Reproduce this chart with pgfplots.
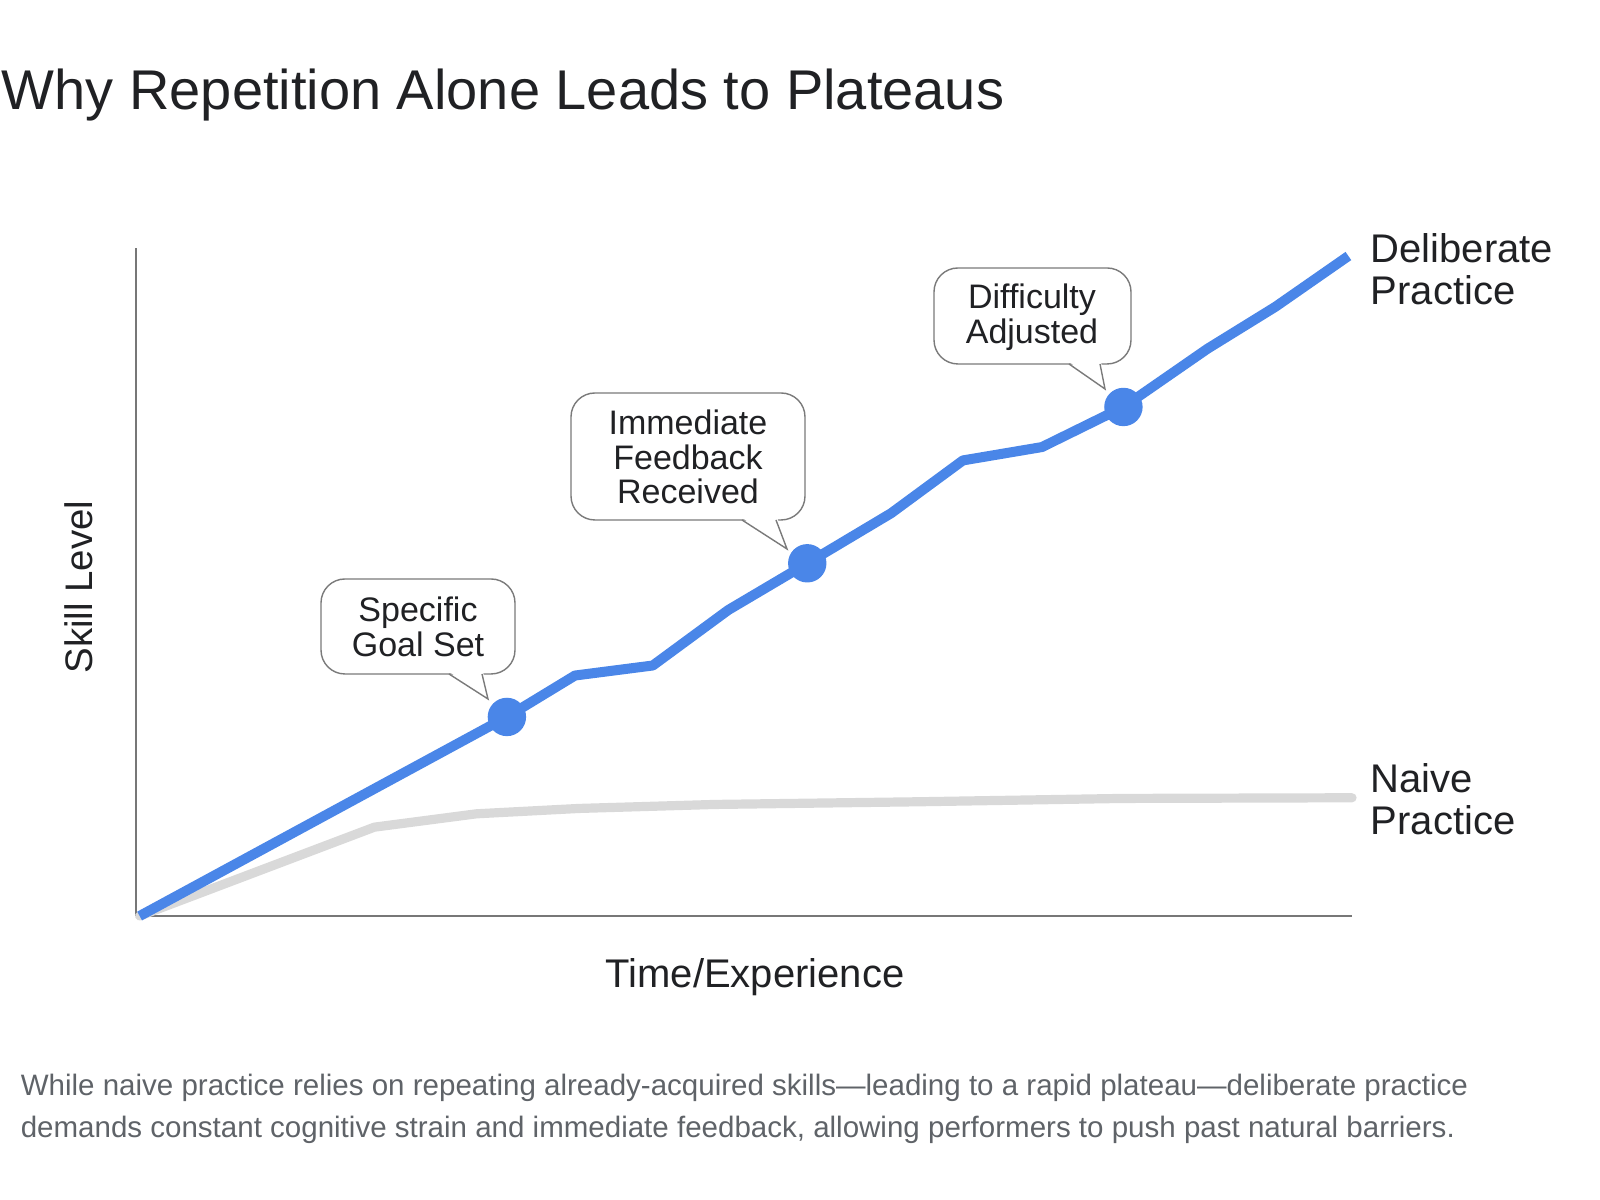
\documentclass[border=0pt]{standalone}
\usepackage{fontspec}
\setmainfont{Liberation Sans}
\usepackage{pgfplots}
\pgfplotsset{compat=1.18}

\definecolor{dpblue}{HTML}{4A86E8}
\definecolor{npgray}{HTML}{D9D9D9}
\definecolor{axisgray}{HTML}{777777}
\definecolor{boxgray}{HTML}{7A7A7A}
\definecolor{inkdark}{HTML}{202124}
\definecolor{capgray}{HTML}{5F6368}

% skill over time, both series on a 0-100 scale
\pgfplotstableread{
x     y
0.3   0.0
30.5  29.8
36.1  36.0
42.5  37.5
48.7  45.8
55.2  52.8
62.1  60.3
68.0  68.2
74.5  70.2
81.2  76.2
88.1  84.9
93.7  91.2
99.7  98.8
}\deliberate

\pgfplotstableread{
x     y
30.5  29.8
55.2  52.8
81.2  76.2
}\milestones

\pgfplotstableread{
x     y
0.3   0.0
19.6  13.3
28.0  15.3
36.4  16.1
47.6  16.7
64.3  17.1
81.1  17.6
100   17.7
}\naive

\begin{document}
\begin{tikzpicture}
% page frame in 1600 x 1200 units, y pointing down
\begin{scope}[x=0.25bp, y=-0.25bp, shift={(0,300bp)}]
  \useasboundingbox (0,0) rectangle (1600,1200);
\end{scope}

\begin{axis}[
  at={(34bp,71bp)}, anchor=south west, scale only axis,
  width=304bp, height=167bp,
  xmin=0, xmax=100, ymin=0, ymax=100,
  axis lines=left,
  axis line style={-, draw=axisgray, line width=0.45bp},
  ticks=none, clip=false,
]
  \addplot[npgray, line width=2.3bp, line join=round, line cap=round] table {\naive};
  \addplot[dpblue, line width=2.5bp, line join=round] table {\deliberate};
  \addplot[only marks, mark=*, mark size=4.6bp, dpblue, mark options={draw=dpblue, fill=dpblue}] table {\milestones};
\end{axis}

\begin{scope}[x=0.25bp, y=-0.25bp, shift={(0,300bp)}, text=inkdark]
  % title
  \node[anchor=base west, inner sep=0pt, font=\fontsize{14bp}{17bp}\selectfont] at (1,110)
    {Why Repetition Alone Leads to Plateaus};

  % axis titles
  \node[rotate=90, inner sep=0pt, font=\fontsize{9.6bp}{11bp}\selectfont] at (79,587) {Skill Level};
  \node[anchor=base, inner sep=0pt, font=\fontsize{10bp}{12bp}\selectfont] at (755,988) {Time/Experience};

  % series names (anchored on the baseline of the last line)
  \node[anchor=base west, inner sep=0pt, align=left, font=\fontsize{10bp}{10.5bp}\selectfont] at (1370,305)
    {Deliberate\\Practice};
  \node[anchor=base west, inner sep=0pt, align=left, font=\fontsize{10bp}{10.5bp}\selectfont] at (1370,835)
    {Naive\\Practice};

  % callouts
  \tikzset{callout/.style={draw=boxgray, line width=0.35bp}}
  % Specific Goal Set
  \filldraw[callout, fill=white, rounded corners=6] (321,579) rectangle (515,674);
  \fill[white] (448,671) -- (488,699) -- (483,671) -- cycle;
  \draw[callout, line join=miter] (449,674) -- (488,699) -- (482,674);
  \node[align=center, inner sep=0pt, font=\fontsize{8.5bp}{8.7bp}\selectfont] at (418,627)
    {Specific\\Goal Set};
  % Immediate Feedback Received
  \filldraw[callout, fill=white, rounded corners=6] (571,393) rectangle (805,520);
  \fill[white] (741,517) -- (787,549) -- (777,517) -- cycle;
  \draw[callout, line join=miter] (742,520) -- (787,549) -- (776,520);
  \node[align=center, inner sep=0pt, font=\fontsize{8.5bp}{8.7bp}\selectfont] at (688,457)
    {Immediate\\Feedback\\Received};
  % Difficulty Adjusted
  \filldraw[callout, fill=white, rounded corners=6] (934,268) rectangle (1131,364);
  \fill[white] (1068,361) -- (1105,389) -- (1101,361) -- cycle;
  \draw[callout, line join=miter] (1069,364) -- (1105,389) -- (1100,364);
  \node[align=center, inner sep=0pt, font=\fontsize{8.5bp}{8.7bp}\selectfont] at (1032,317)
    {Difficulty\\Adjusted};

  % caption (anchored on the baseline of its second line)
  \node[anchor=base west, inner sep=0pt, align=left, text=capgray, font=\fontsize{7.38bp}{10.7bp}\selectfont] at (20,1138)
    {While naive practice relies on repeating already-acquired skills—leading to a rapid plateau—deliberate practice\\
     demands constant cognitive strain and immediate feedback, allowing performers to push past natural barriers.};
\end{scope}
\end{tikzpicture}
\end{document}
